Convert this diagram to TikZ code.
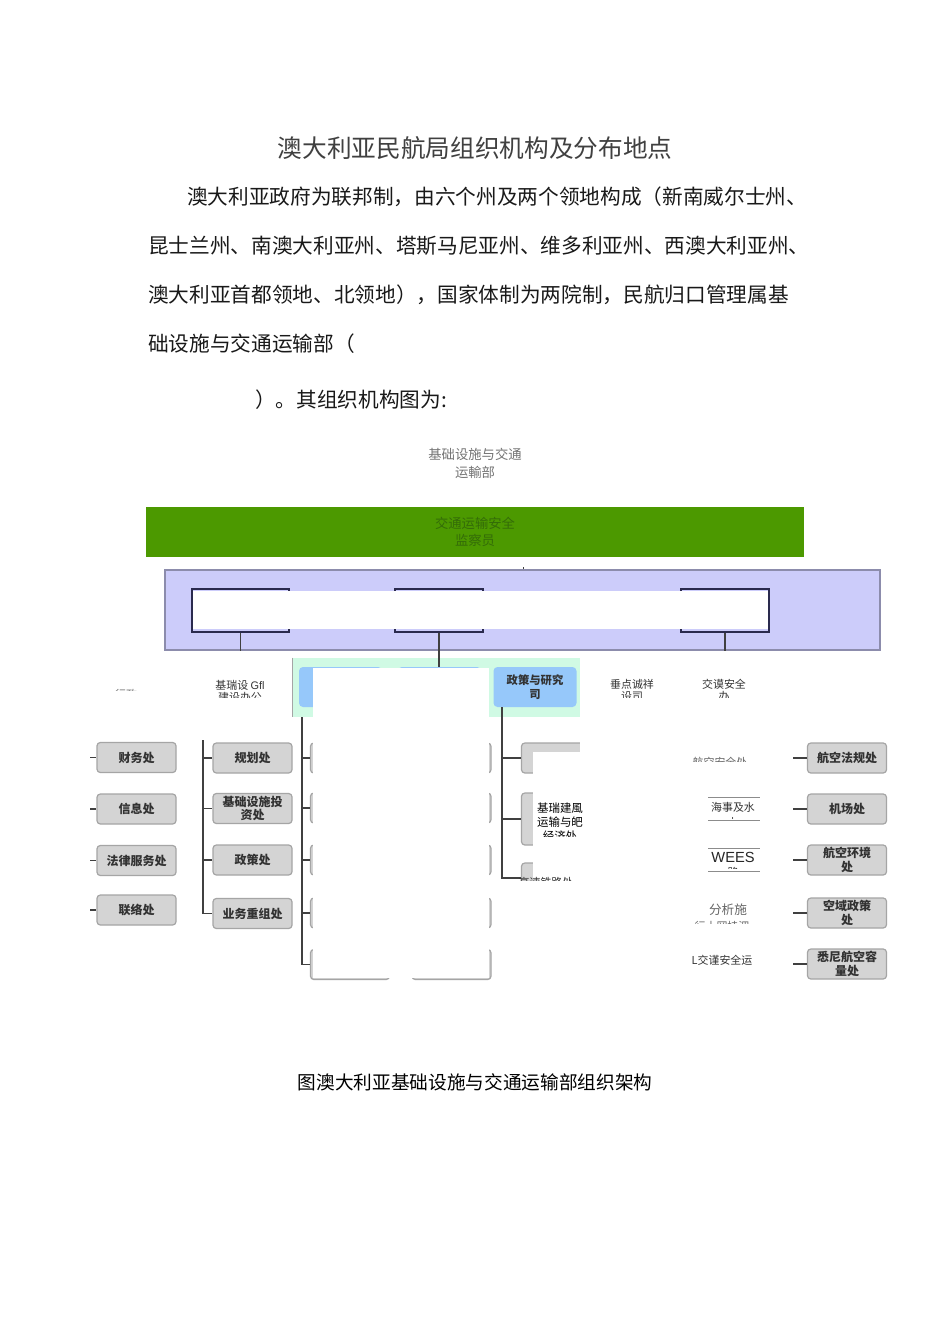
\documentclass[tikz,border=0pt]{standalone}
\usepackage{fontspec}
\usetikzlibrary{positioning,calc}
\newfontfamily\cjk{Noto Sans CJK SC}
\newfontfamily\song{Noto Sans CJK SC}
\newfontfamily\lsans{Liberation Sans}
\definecolor{orggreen}{RGB}{76,153,0}
\definecolor{orggreentxt}{RGB}{52,108,8}
\definecolor{orglav}{RGB}{204,204,250}
\definecolor{orglavline}{RGB}{140,140,172}
\definecolor{orgnavy}{RGB}{42,42,78}
\definecolor{orgmint}{RGB}{208,250,228}
\definecolor{orgblue}{RGB}{150,200,250}
\definecolor{orgbox}{RGB}{212,212,212}
\definecolor{orgboxline}{RGB}{165,165,165}
\definecolor{orgtxt}{RGB}{50,50,50}

\begin{document}
\begin{tikzpicture}[x=0.75pt,y=-0.75pt,every node/.style={inner sep=0pt},
      para/.style={anchor=west,font=\cjk\fontsize{15.5}{18}\selectfont,text=black!90},
      unit/.style={draw=orgboxline,fill=orgbox,rounded corners=2.5pt,line width=0.9pt,minimum width=59.25pt,minimum height=22.5pt,align=center,text=orgtxt,font=\cjk\bfseries\fontsize{9}{10}\selectfont},
      dept/.style={fill=orgblue,rounded corners=3pt,minimum width=62.25pt,minimum height=30pt,align=center,text=orgtxt,font=\cjk\bfseries\fontsize{8.5}{10.5}\selectfont},
      bracket/.style={draw=orgnavy,line width=1.3pt,minimum width=66pt,minimum height=32.25pt},
      link/.style={draw=black!75,line width=1.1pt},
      note/.style={font=\cjk\fontsize{8.2}{9}\selectfont,text=black!80},
      rule/.style={draw=black!45,line width=0.6pt}]
    \useasboundingbox (0,0) rectangle (950,1318);
    \fill[white] (0,0) rectangle (950,1318);
    % Text
    \node[font=\song\fontsize{18.5}{22}\selectfont,text=black!75] (title) at (475,148) {澳大利亚民航局组织机构及分布地点};
    \node[para] (p1) at (187,197) {澳大利亚政府为联邦制，由六个州及两个领地构成（新南威尔士州、};
    \node[para] (p2) at (148,246) {昆士兰州、南澳大利亚州、塔斯马尼亚州、维多利亚州、西澳大利亚州、};
    \node[para] (p3) at (148,295) {澳大利亚首都领地、北领地），国家体制为两院制，民航归口管理属基};
    \node[para] (p4) at (148,344) {础设施与交通运输部（};
    \node[para] (p5) at (255,400) {）。其组织机构图为:};
    % Top of chart
    \node[font=\song\fontsize{10}{13.5}\selectfont,text=black!55,align=center] (ministry) at (475,463) {基础设施与交通\\运輸部};
    \node[fill=orggreen,minimum width=493.5pt,minimum height=37.5pt] (gbar) at (475,532) {};
    \node[font=\song\fontsize{10}{12.75}\selectfont,text=orggreentxt,align=center] (inspector) at (gbar) {交通运输安全\\监察员};
    \node[draw=orglavline,fill=orglav,line width=0.9pt,minimum width=536.25pt,minimum height=60pt] (lav) at (522.5,610) {};
    \coordinate (lavTick) at (523,567);
    \draw[link,line width=0.6pt] (lavTick) -- (lavTick |- lav.north);
    \node[bracket,minimum width=72.75pt] (grp1) at (240.5,610.5) {};
    \node[bracket] (grp2) at (439,610.5) {};
    \node[bracket] (grp3) at (725,610.5) {};
    \fill[white] (193,591) rectangle (767.5,629);
    \foreach \g in {grp1,grp3}{\draw[link] (\g.south) -- (\g.south |- lav.south);}
    % Divisions
    \node[fill=orgmint,minimum width=215.25pt,minimum height=44.25pt] (mint) at (436.5,687.5) {};
    \draw[orgboxline] (mint.north west) -- (mint.south west);
    \node[dept] (div1) at (340.5,687) {};
    \node[dept] (div2) at (439.5,687) {};
    \node[dept] (div3) at (535,687) {政策与研究\\司};
    \draw[link] (grp2.south) -- (grp2.south |- div2.north);
    % Left columns
    \foreach \n/\y/\t in {adm1/757.5/财务处,adm2/809/信息处,adm3/860.5/法律服务处,adm4/910/联络处}{
      \node[unit] (\n) at (136.5,\y) {\t};
      \coordinate (\n-t) at (90,\y);
      \draw[link] (\n-t) -- (\n.west);}
    \node[unit] (inf1) at (252.5,758) {规划处};
    \node[unit] (inf2) at (252.5,808.5) {基础设施投\\资处};
    \node[unit] (inf3) at (252.5,860) {政策处};
    \node[unit] (inf4) at (252.5,913.5) {业务重组处};
    \coordinate (infTop) at (203,740);
    \draw[link] (infTop) |- (inf4.west);
    \foreach \n in {inf1,inf2,inf3}{\draw[link] (infTop |- \n.west) -- (\n.west);}
    % Middle columns
    \foreach \y [count=\i] in {758,808,860,913,964.5}{
      \node[unit] (sub\i) at (350,\y) {};
      \node[unit] (mid\i) at (451.5,\y) {};}
    \coordinate (divOneDown) at (302,717);
    \draw[link] (divOneDown) |- (sub5.west);
    \foreach \i in {1,...,4}{\draw[link] (divOneDown |- sub\i.west) -- (sub\i.west);}
    \node[unit] (pol1) at (561,758) {};
    \node[unit,minimum height=39pt] (pol2) at (561,819) {};
    \node[unit] (pol3) at (561,878) {};
    \coordinate (divThreeDown) at (502,707);
    \draw[link] (divThreeDown) |- (pol3.west);
    \foreach \n in {pol1,pol2}{\draw[link] (divThreeDown |- \n.west) -- (\n.west);}
    % Right column
    \foreach \n/\y/\t in {avn1/758/航空法规处,avn2/809/机场处,avn3/860/航空环境\\处,avn4/913/空域政策\\处,avn5/964/悉尼航空容\\量处}{
      \node[unit] (\n) at (847,\y) {\t};
      \coordinate (\n-t) at (793,\y);
      \draw[link] (\n-t) -- (\n.west);}
    % Pasted over
    \fill[white] (313,668) rectangle (489,978);
    \fill[white] (533,752) rectangle (790,995);
    \fill[white] (580,717) rectangle (790,752);
    \node[note,text=black!55] (admHead) at (126,694) {行政};
    \fill[white] (100,691) rectangle (160,705);
    \node[note,align=center] (infHead) at (240,691) {基瑞设 {\lsans Gfl}\\建设办公};
    \fill[white] (200,698) rectangle (285,712);
    \node[note,align=center] (safeHead) at (632,690) {垂点诚祥\\设司};
    \fill[white] (600,698) rectangle (665,712);
    \node[note,align=center] (secHead) at (724,690) {交谟安全\\办};
    \fill[white] (700,698) rectangle (750,712);
    \node[font=\cjk\fontsize{8.6}{10.5}\selectfont,align=center] (pol2txt) at (560,822) {基瑞建風\\运输与皅\\经济处};
    \fill[white] (534,836.5) rectangle (592,848);
    \node[note] (railHead) at (546,882) {高速铁路处};
    \fill[white] (512,880.5) rectangle (582,895);
    \node[note,text=black!60] (aviSafe) at (720,762) {航空安全处};
    \fill[white] (685,762) rectangle (760,775);
    \node[note] (marine) at (733,807) {海事及水};
    \node[note] (marine2) at (733,822) {上};
    \fill[white] (715,818.5) rectangle (752,830);
    \draw[rule] (708,797) -- (760,797);
    \draw[rule] (708,820) -- (760,820);
    \node[font=\lsans\fontsize{11}{12}\selectfont,text=black!85] (wees) at (733,857) {WEES};
    \node[note] (wees2) at (733,872) {路};
    \fill[white] (715,869) rectangle (752,880);
    \draw[rule] (708,848) -- (760,848);
    \draw[rule] (708,871) -- (760,871);
    \node[font=\song\fontsize{9.5}{11}\selectfont,text=black!60] (analysis) at (728,910) {分析施};
    \node[note,text=black!60] (analysis2) at (722,926) {行丨岡挂沺};
    \fill[white] (680,924) rectangle (770,936);
    \node[note] (transSafe) at (722,960) {L交谨安全运};
    % Caption
    \node[font=\cjk\fontsize{14}{16}\selectfont] (caption) at (475,1082) {图澳大利亚基础设施与交通运输部组织架构};
  \end{tikzpicture}
\end{document}
